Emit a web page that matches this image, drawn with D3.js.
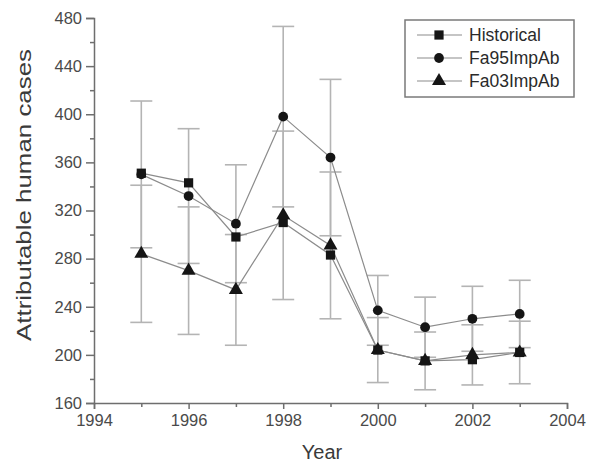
<!DOCTYPE html>
<html>
<head>
<meta charset="utf-8">
<script src="https://cdn.jsdelivr.net/npm/d3@7"></script>
<style>
  body { margin: 0; background: #fff; }
  text { font-family: "Liberation Sans", Arial, sans-serif; }
</style>
</head>
<body>
<div id="chart"></div>
<script>
// values
const years = [1995, 1996, 1997, 1998, 1999, 2000, 2001, 2002, 2003];
const historical = [351, 343, 298, 310, 283, 204, 195, 196, 202];
const fa95 = [350, 332, 309, 398, 364, 237, 223, 230, 234];
const fa95Err = [61, 56, 49, 75, 65, 29, 25, 27, 28];
const fa03 = [284, 270, 254, 316, 291, 204, 195, 200, 202];
const fa03Err = [57, 53, 46, 70, 61, 27, 24, 25, 26];
const xTicks = [1994, 1996, 1998, 2000, 2002, 2004];
const yTicks = [160, 200, 240, 280, 320, 360, 400, 440, 480];

let width = 599,
  height = 464,
  margin = ({ top: 18, right: 32, bottom: 61, left: 94 });

let x = d3.scaleLinear()
  .domain([1994, 2004])
  .range([margin.left, width - margin.right]);

let y = d3.scaleLinear()
  .domain([160, 480])
  .range([height - margin.bottom, margin.top]);

const svg = d3.select("#chart")
  .append("svg")
  .attr("width", width)
  .attr("height", height)
  .attr("viewBox", [0, 0, width, height]);

const series = [
  { name: "Historical", values: historical, symbol: d3.symbolSquare, size: 85 },
  { name: "Fa95ImpAb", values: fa95, err: fa95Err, symbol: d3.symbolCircle, size: 75 },
  { name: "Fa03ImpAb", values: fa03, err: fa03Err, symbol: d3.symbolTriangle, size: 85 }
];

// error bars (behind everything)
const capW = 11;
for (let s of series.filter(s => s.err)) {
  const g = svg.append("g")
    .attr("stroke", "#b4b4b4")
    .attr("stroke-width", 1.6)
    .attr("fill", "none");
  years.forEach((yr, i) => {
    const lo = y(s.values[i] - s.err[i]), hi = y(s.values[i] + s.err[i]), cx = x(yr);
    g.append("line").attr("x1", cx).attr("x2", cx).attr("y1", lo).attr("y2", hi);
    g.append("line").attr("x1", cx - capW).attr("x2", cx + capW).attr("y1", lo).attr("y2", lo);
    g.append("line").attr("x1", cx - capW).attr("x2", cx + capW).attr("y1", hi).attr("y2", hi);
  });
}

// axes
svg.append("g")
  .attr("transform", `translate(0,${height - margin.bottom})`)
  .call(d3.axisBottom(x).tickValues(xTicks).tickFormat(d3.format("d")).tickSize(6).tickPadding(5));

svg.append("g")
  .attr("transform", `translate(0,${height - margin.bottom})`)
  .call(d3.axisBottom(x).tickValues(d3.range(1995, 2004, 2)).tickFormat("").tickSize(4))
  .call(g => g.select(".domain").remove());

svg.append("g")
  .attr("transform", `translate(${margin.left},0)`)
  .call(d3.axisLeft(y).tickValues(yTicks).tickSize(8).tickPadding(4));

svg.append("g")
  .attr("transform", `translate(${margin.left},0)`)
  .call(d3.axisLeft(y).tickValues(d3.range(180, 480, 40)).tickFormat("").tickSize(4))
  .call(g => g.select(".domain").remove());

svg.selectAll(".domain, .tick line").attr("stroke", "#6e6e6e").attr("stroke-width", 1.5);
svg.selectAll(".tick text").attr("fill", "#4a4a4a").attr("font-size", 16.5);

svg.append("text")
  .attr("x", 322)
  .attr("y", 459)
  .attr("text-anchor", "middle")
  .attr("fill", "#3a3a3a")
  .attr("font-size", 20)
  .text("Year");

svg.append("text")
  .attr("transform", "translate(31,195) rotate(-90)")
  .attr("text-anchor", "middle")
  .attr("fill", "#3a3a3a")
  .attr("font-size", 21)
  .attr("textLength", 292)
  .attr("lengthAdjust", "spacingAndGlyphs")
  .text("Attributable human cases");

// lines and markers
let line = d3.line()
  .x((d, i) => x(years[i]))
  .y(d => y(d));

for (let s of [series[1], series[0], series[2]]) {
  svg.append("path")
    .datum(s.values)
    .attr("fill", "none")
    .attr("stroke", "#8c8c8c")
    .attr("stroke-width", 1.2)
    .attr("d", line);
}

for (let s of [series[1], series[0], series[2]]) {
  svg.append("g")
    .selectAll("path")
    .data(s.values)
    .join("path")
    .attr("transform", (d, i) => `translate(${x(years[i])},${y(d)})`)
    .attr("d", d3.symbol(s.symbol, s.size))
    .attr("fill", "#151515");
}

// legend
const legend = svg.append("g").attr("transform", "translate(405,20)");
legend.append("rect")
  .attr("width", 169)
  .attr("height", 77)
  .attr("fill", "#fff")
  .attr("stroke", "#7a7a7a")
  .attr("stroke-width", 1.5);

series.forEach((s, i) => {
  const ly = 15 + i * 23;
  legend.append("line")
    .attr("x1", 12).attr("x2", 57)
    .attr("y1", ly).attr("y2", ly)
    .attr("stroke", "#8c8c8c")
    .attr("stroke-width", 1.2);
  legend.append("path")
    .attr("transform", `translate(34,${ly})`)
    .attr("d", d3.symbol(s.symbol, s.size))
    .attr("fill", "#151515");
  legend.append("text")
    .attr("x", 64)
    .attr("y", ly)
    .attr("dy", "0.36em")
    .attr("fill", "#2a2a2a")
    .attr("font-size", 17.5)
    .text(s.name);
});
</script>
</body>
</html>
